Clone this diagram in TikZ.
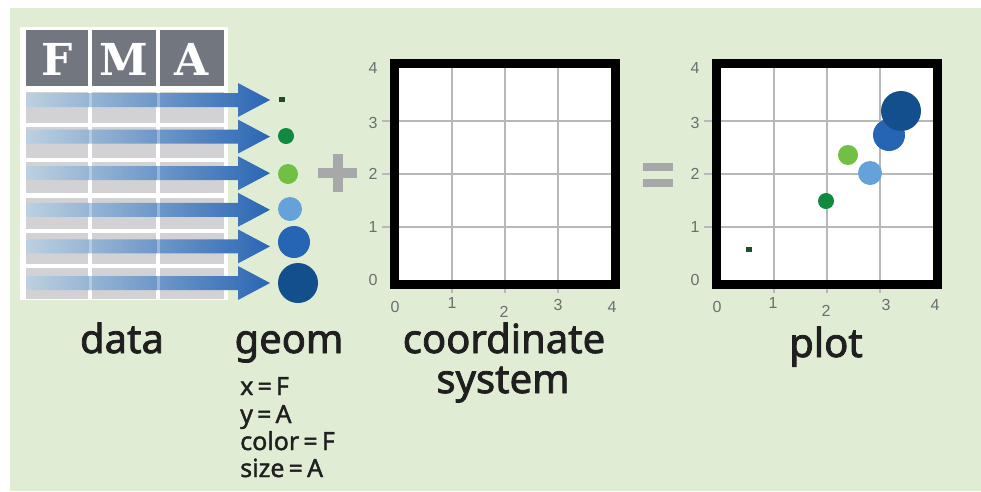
\documentclass[tikz,border=0pt]{standalone}
\usepackage{fontspec}
\setmainfont{Noto Sans}
\newfontfamily\lblfont{Noto Sans}[FakeBold=2]
\newfontfamily\mapfont{Noto Sans}[FakeBold=1.5]
\newfontfamily\tickfont{Liberation Sans}
\newfontfamily\headfont{DejaVu Serif}
\definecolor{panel}{HTML}{E0EDD4}
\definecolor{headgray}{HTML}{72767F}
\definecolor{rowgray}{HTML}{D2D2D4}
\definecolor{arrowlight}{HTML}{BCD1E0}
\definecolor{arrowblue}{HTML}{2A66B4}
\definecolor{gridgray}{HTML}{B8B8B8}
\definecolor{tickgray}{HTML}{6E6E6E}
\definecolor{opgray}{HTML}{A6A8AA}
\definecolor{ptA}{HTML}{1F4D2A}
\definecolor{ptB}{HTML}{108A3F}
\definecolor{ptC}{HTML}{72C043}
\definecolor{ptD}{HTML}{64A2D9}
\definecolor{ptE}{HTML}{2665B3}
\definecolor{ptF}{HTML}{124F8C}
\usetikzlibrary{shapes.geometric}
\begin{document}
\begin{tikzpicture}[x=1pt,y=-1pt,
  gridline/.style={draw=gridgray,line width=2},
  frameline/.style={draw=black,line width=9},
  ticklbl/.style={font=\tickfont\fontsize{16}{16}\selectfont,text=tickgray,inner sep=0pt},
  biglbl/.style={font=\lblfont\fontsize{40}{40}\selectfont,text=black!88,inner sep=0pt,anchor=base},
  maplbl/.style={font=\mapfont\fontsize{25}{25}\selectfont,text=black!88,inner sep=0pt,anchor=base west},
  headlbl/.style={font=\headfont\bfseries\fontsize{44}{44}\selectfont,inner sep=0pt,anchor=base},
  dot/.style={circle,inner sep=0pt,minimum size=#1},
  sq/.style={rectangle,inner sep=0pt,minimum width=6,minimum height=5,fill=ptA}]
\useasboundingbox (0,0) rectangle (981,491);
\fill[white] (0,0) rectangle (981,491);
\fill[panel] (10,8) rectangle (981,491);

% ---- data table ----
\fill[white] (20,27) rectangle (228,300);
\foreach \xa/\xb/\ch/\nm in {26/88/F/hf,92/156/M/hm,160/224/A/ha} {
  \fill[headgray] (\xa,30) rectangle (\xb,86);
  \node[headlbl,text=white] (\nm) at ({(\xa+\xb)/2},75) {\ch};
}
\foreach \i in {0,...,5} {
  \pgfmathsetmacro\ta{92+35.2*\i}
  \pgfmathsetmacro\tb{\ta+31}
  \foreach \xa/\xb in {26/88,92/156,160/224}
    \fill[rowgray] (\xa,\ta) rectangle (\xb,\tb);
}

% ---- arrows from rows to geoms ----
\foreach \i in {0,...,5} {
  \pgfmathsetmacro\c{100+36.6*\i}
  \shade[left color=arrowlight,right color=arrowblue]
    (26,\c-7) -- (238,\c-7) -- (238,\c-17) -- (270,\c) -- (238,\c+17)
    -- (238,\c+7) -- (26,\c+7) -- cycle;
}
\foreach \x in {90,158}
  \draw[white,opacity=0.3,line width=3] (\x,92) -- (\x,298);

% ---- geoms ----
\node[sq] (g1) at (282,99) {};
\node[dot=16,fill=ptB] (g2) at (286,136) {};
\node[dot=20,fill=ptC] (g3) at (288,174) {};
\node[dot=24,fill=ptD] (g4) at (290,209) {};
\node[dot=32,fill=ptE] (g5) at (294,242) {};
\node[dot=40,fill=ptF] (g6) at (298,283) {};

% ---- plus and equals ----
\fill[opgray] (318,168) rectangle (357,178);
\fill[opgray] (332.5,154) rectangle (342.5,192);
\fill[opgray] (643,163) rectangle (673,171);
\fill[opgray] (643,179) rectangle (673,187);

% ---- the two coordinate panels ----
\foreach \ox/\nm in {0/cs,322/pl} {
  \fill[white] (394+\ox,63) rectangle (615+\ox,284);
  \foreach \k in {1,2,3} {
    \draw[gridline] ({399+53*\k+\ox},293) -- ({399+53*\k+\ox},68);
    \draw[gridline] (382+\ox,{280-53*\k}) -- (611+\ox,{280-53*\k});
  }
  \draw[frameline] (394+\ox,63) rectangle (615+\ox,284);
  \foreach \v/\yy in {0/280,1/227,2/174,3/123,4/68}
    \node[ticklbl] (\nm y\v) at (373+\ox,\yy) {\v};
}
\foreach \v/\xx/\yy in {0/395/307,1/452/303,2/504/312,3/558/305,4/612/307}
  \node[ticklbl] (csx\v) at (\xx,\yy) {\v};
\foreach \v/\xx/\yy in {0/717/307,1/773/303,2/826/311,3/886/305,4/935/305}
  \node[ticklbl] (plx\v) at (\xx,\yy) {\v};

% ---- plotted points ----
\node[sq] (p1) at (749,249) {};
\node[dot=16,fill=ptB] (p2) at (826,201) {};
\node[dot=20,fill=ptC] (p3) at (848,155) {};
\node[dot=24,fill=ptD] (p4) at (870,173) {};
\node[dot=32,fill=ptE] (p5) at (889,135) {};
\node[dot=40,fill=ptF] (p6) at (901,111) {};

% ---- captions ----
\node[biglbl] (ldata) at (122,353) {data};
\node[biglbl] (lgeom) at (289,353) {geom};
\node[biglbl] (lcoord) at (504,353) {coordinate};
\node[biglbl] (lsys) at (503,393) {system};
\node[biglbl] (lplot) at (826,357) {plot};
\node[maplbl] (mx) at (240,395) {x\,=\,F};
\node[maplbl] (my) at (240,423) {y\,=\,A};
\node[maplbl] (mc) at (240,450) {color\,=\,F};
\node[maplbl] (ms) at (240,477) {size\,=\,A};
\end{tikzpicture}
\end{document}
